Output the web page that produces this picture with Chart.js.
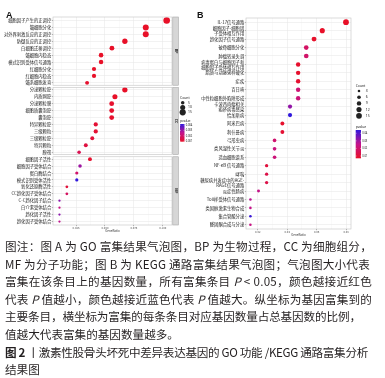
<!DOCTYPE html>
<html>
<head>
<meta charset="utf-8">
<script src="https://cdn.jsdelivr.net/npm/chart.js@4.4.0/dist/chart.umd.min.js"></script>
<style>
  body { margin: 0; width: 385px; height: 378px; background: #fff; overflow: hidden; position: relative; font-family: "Noto Sans CJK SC", sans-serif; }
  #chartA { position: absolute; left: 0; top: 0; }
  #chartB { position: absolute; left: 190px; top: 0; }
  #caption { position: absolute; left: 5px; top: 238px; font-size: 11.6px; line-height: 17.6px; color: #231f20; }
  #caption div { white-space: nowrap; height: 17.6px; }
  #caption span.fit { display: inline-block; white-space: nowrap; }
  #caption b { font-weight: 700; }
</style>
</head>
<body>
<canvas id="chartA" width="196" height="238"></canvas>
<canvas id="chartB" width="195" height="240"></canvas>
<div id="caption">
<div><span class="fit" data-w="367">图注：图 A 为 GO 富集结果气泡图，BP 为生物过程，CC 为细胞组分，</span></div>
<div><span class="fit" data-w="365">MF 为分子功能；图 B 为 KEGG 通路富集结果气泡图；气泡图大小代表</span></div>
<div><span class="fit" data-w="367">富集在该条目上的基因数量，所有富集条目 <i>P</i> &lt; 0.05，颜色越接近红色</span></div>
<div><span class="fit" data-w="367">代表 <i>P</i> 值越小，颜色越接近蓝色代表 <i>P</i> 值越大。纵坐标为基因富集到的</span></div>
<div><span class="fit" data-w="356">主要条目，横坐标为富集的每条条目对应基因数量占总基因数的比例，</span></div>
<div>值越大代表富集的基因数量越多。</div>
<div><span class="fit" data-w="363"><b>图 2</b> 丨激素性股骨头坏死中差异表达基因的 GO 功能 /KEGG 通路富集分析</span></div>
<div>结果图</div>
</div>
<script>
// ---- GO (A) ----
const goPanels = ['BP', 'CC', 'MF'];
const goPanelRows = [10, 10, 10];
const goLabels = [
  '细胞因子产生的正调控', '髓细胞分化', '对外界刺激反应的正调控', '防御反应的正调控', '白细胞迁移调控',
  '髓细胞内稳态', '模式识别受体信号通路', '红细胞分化', '红细胞内稳态', '髓系细胞发育',
  '分泌颗粒腔', '内质网腔', '分泌颗粒膜', '细胞质囊泡腔', '囊泡腔',
  '特异颗粒腔', '三级颗粒', '三级颗粒腔', '特异颗粒', '膜筏',
  '细胞因子活性', '细胞因子受体结合', '蛋白酶结合', '模式识别受体活性', '氧化还原酶活性',
  'CC趋化因子受体结合', 'C-C趋化因子结合', '白介素受体结合', '趋化因子活性', '趋化因子受体结合'
];
const goRatio = [
  0.1034, 0.0853, 0.0853, 0.0672, 0.0560, 0.0466, 0.0466, 0.0405, 0.0405, 0.0345,
  0.0672, 0.0586, 0.0558, 0.0558, 0.0558, 0.0420, 0.0420, 0.0390, 0.0334, 0.0276,
  0.0370, 0.0284, 0.0256, 0.0256, 0.0170, 0.0170, 0.0106, 0.0106, 0.0106, 0.0106
];
const goCount = [
  17, 14, 14, 11, 9, 8, 8, 7, 7, 6,
  11, 10, 9, 9, 9, 7, 7, 6, 6, 5,
  6, 5, 4, 4, 3, 3, 2, 2, 2, 2
];
const goPvalue = [
  0.0009, 0.0009, 0.0009, 0.0009, 0.0009, 0.0009, 0.0009, 0.0009, 0.0009, 0.0010,
  0.0009, 0.0009, 0.0010, 0.0010, 0.0010, 0.0011, 0.0011, 0.0012, 0.0013, 0.0016,
  0.0010, 0.0030, 0.0020, 0.0042, 0.0012, 0.0018, 0.0032, 0.0024, 0.0032, 0.0026
];
const goXTicks = [0.025, 0.05, 0.075, 0.1];
const goXTickLabels = ['0.025', '0.050', '0.075', '0.100'];
const goCountKeys = [5, 10, 15];
const goPvalueKeys = [0.001, 0.002, 0.003, 0.004];
const goPvalueRange = [0.0009, 0.0042];

// ---- KEGG (B) ----
const keggLabels = [
  'IL-17信号通路', '细胞因子-细胞因\n子受体相互作用', '趋化因子信号通路', '破骨细胞分化', '肿瘤转录失调',
  '病毒蛋白与细胞因子和\n细胞因子受体相互作用', '脂质与动脉粥样硬化', '疟疾', '百日咳', '中性粒细胞外陷阱形成',
  '卡波西肉瘤相关\n疱疹病毒感染', '恰加斯病', '阿米巴病', '利什曼病', '弓形虫病',
  '类风湿性关节炎', '造血细胞谱系', 'NF-κB 信号通路', '哮喘', '糖尿病并发症中的AGE-\nRAGE信号通路',
  '炎症性肠病', 'Toll样受体信号通路', '类固醇激素生物合成', '集合管酸分泌', '醛固酮合成与分泌'
];
const keggRatio = [
  0.0799, 0.0638, 0.0582, 0.0529, 0.0529, 0.0474, 0.0474, 0.0474, 0.0474, 0.0474,
  0.0419, 0.0419, 0.0367, 0.0367, 0.0314, 0.0314, 0.0314, 0.0260, 0.0260, 0.0260,
  0.0205, 0.0150, 0.0150, 0.0150, 0.0150
];
const keggCount = [15, 12, 11, 10, 10, 9, 9, 9, 9, 9, 8, 8, 7, 7, 6, 6, 6, 5, 5, 5, 4, 3, 3, 3, 3];
const keggPvalue = [
  0.0070, 0.0072, 0.0075, 0.0180, 0.0190, 0.0080, 0.0080, 0.0085, 0.0210, 0.0220,
  0.0320, 0.0443, 0.0080, 0.0090, 0.0200, 0.0230, 0.0220, 0.0110, 0.0130, 0.0130,
  0.0250, 0.0270, 0.0250, 0.0430, 0.0240
];
const keggXTicks = [0.02, 0.04, 0.06, 0.08];
const keggXTickLabels = ['0.02', '0.04', '0.06', '0.08'];
const keggCountKeys = [3, 6, 9, 12, 15];
const keggPvalueKeys = [0.01, 0.02, 0.03, 0.04];
const keggPvalueRange = [0.007, 0.0443];

// stretch or squeeze each caption line to the width it has in the figure
document.querySelectorAll('#caption span.fit').forEach(el => {
  const target = Number(el.dataset.w);
  const chars = el.textContent.length;
  const extra = (target - el.getBoundingClientRect().width) / chars;
  el.style.letterSpacing = extra.toFixed(3) + 'px';
});

Chart.defaults.font.family = '"Noto Sans CJK SC", "Noto Sans", sans-serif';

const colorStops = [[232, 16, 40], [196, 20, 140], [48, 24, 220]];
function pColor(p, range) {
  let t = (p - range[0]) / (range[1] - range[0]);
  t = Math.max(0, Math.min(1, t));
  const seg = t < 0.5 ? 0 : 1;
  const f = t < 0.5 ? t * 2 : (t - 0.5) * 2;
  const a = colorStops[seg], b = colorStops[seg + 1];
  return 'rgb(' + a.map((c, i) => Math.round(c + (b[i] - c) * f)).join(',') + ')';
}

function drawLegend(ctx, o, lg) {
  ctx.save();
  ctx.fillStyle = '#222';
  ctx.textBaseline = 'middle';
  ctx.font = '3.4px "Noto Sans", sans-serif';
  ctx.fillText('Count', lg.x, lg.countY);
  o.countKeys.forEach((c, i) => {
    const y = lg.countY + lg.dotStart + i * lg.dotGap;
    ctx.beginPath();
    ctx.arc(lg.x + lg.dotDx, y, o.k * Math.sqrt(c), 0, Math.PI * 2);
    ctx.fill();
    ctx.fillText(String(c), lg.x + lg.labelDx, y);
  });
  ctx.fillText('pvalue', lg.x, lg.barTop - 2.5);
  const g = ctx.createLinearGradient(0, lg.barBottom, 0, lg.barTop);
  g.addColorStop(0, pColor(o.pRange[0], o.pRange));
  g.addColorStop(0.5, pColor((o.pRange[0] + o.pRange[1]) / 2, o.pRange));
  g.addColorStop(1, pColor(o.pRange[1], o.pRange));
  ctx.fillStyle = g;
  ctx.fillRect(lg.x, lg.barTop, lg.barW, lg.barBottom - lg.barTop);
  ctx.fillStyle = '#222';
  ctx.strokeStyle = '#fff';
  ctx.lineWidth = 0.4;
  o.pKeys.forEach(v => {
    const y = lg.barBottom - (v - o.pRange[0]) / (o.pRange[1] - o.pRange[0]) * (lg.barBottom - lg.barTop);
    ctx.beginPath();
    ctx.moveTo(lg.x, y); ctx.lineTo(lg.x + 1, y);
    ctx.moveTo(lg.x + lg.barW - 1, y); ctx.lineTo(lg.x + lg.barW, y);
    ctx.stroke();
    ctx.font = '2.6px "Noto Sans", sans-serif';
    ctx.fillText(v.toFixed(o.pDigits), lg.x + lg.barW + 1.2, y);
  });
  ctx.restore();
}

function bubbleChart(id, o) {
  const points = o.ratio.map((x, i) => ({ x: x, y: i, r: o.k * Math.sqrt(o.count[i]) }));
  const majors = o.ticks;
  const step = majors[1] - majors[0];
  const minors = [majors[0] - step / 2].concat(majors.map(v => v + step / 2))
    .filter(v => v > o.min && v < o.max);
  const all = majors.concat(minors).sort((a, b) => a - b);

  return new Chart(document.getElementById(id), {
    type: 'bubble',
    data: {
      labels: o.labels,
      datasets: [{
        data: points,
        backgroundColor: c => pColor(o.pvalue[c.dataIndex], o.pRange),
        borderWidth: 0
      }]
    },
    options: {
      responsive: false,
      animation: false,
      events: [],
      layout: { padding: o.padding },
      plugins: { legend: { display: false }, tooltip: { enabled: false } },
      scales: {
        x: {
          type: 'linear',
          min: o.min,
          max: o.max,
          afterBuildTicks: s => { s.ticks = all.map(v => ({ value: v })); },
          afterFit: s => { s.height = o.xHeight; },
          ticks: {
            autoSkip: false, maxRotation: 0, padding: 0.3,
            font: { size: 2.8 }, color: '#4d4d4d',
            callback: v => { const i = majors.indexOf(v); return i < 0 ? '' : o.tickLabels[i]; }
          },
          grid: {
            color: c => (c.tick && majors.indexOf(c.tick.value) < 0) ? '#F4F4F4' : '#E4E4E4',
            lineWidth: 0.5,
            tickLength: 1.2,
            tickColor: c => (c.tick && majors.indexOf(c.tick.value) < 0) ? 'rgba(0,0,0,0)' : '#555'
          },
          border: { display: false },
          title: { display: true, text: 'GeneRatio', font: { size: 3 }, color: '#333', padding: 0 }
        },
        y: {
          type: 'category',
          offset: true,
          afterFit: s => { s.width = o.yWidth; },
          ticks: {
            autoSkip: false, padding: 0.6,
            font: { size: o.labelSize, lineHeight: 1.15 }, color: '#222',
            callback: function (v) {
              const l = this.getLabelForValue(v);
              return l.indexOf('\n') >= 0 ? l.split('\n') : l;
            }
          },
          grid: { offset: false, color: '#E4E4E4', lineWidth: 0.5, tickLength: 1.2, tickColor: '#555' },
          border: { display: false }
        }
      }
    },
    plugins: [o.plugin]
  });
}

const goOpts = {
  labels: goLabels, ratio: goRatio, count: goCount, pvalue: goPvalue, pRange: goPvalueRange,
  ticks: goXTicks, tickLabels: goXTickLabels, min: 0.005, max: 0.108,
  countKeys: goCountKeys, pKeys: goPvalueKeys, pDigits: 3,
  k: 0.8, labelSize: 4.3, yWidth: 53, xHeight: 8,
  padding: { top: 17, right: 24, bottom: 5, left: 0 }
};
goOpts.plugin = {
  id: 'goFacets',
  beforeDatasetsDraw(chart) {
    const { ctx, chartArea: ca, scales: { y } } = chart;
    const half = (y.getPixelForValue(1) - y.getPixelForValue(0)) / 2;
    ctx.save();
    ctx.fillStyle = '#fff';
    let start = 0;
    goPanelRows.forEach((n, k) => {
      if (k > 0) ctx.fillRect(ca.left - 0.5, y.getPixelForValue(start) - half - 1.1, ca.width + 8, 2.2);
      start += n;
    });
    ctx.restore();
  },
  afterDraw(chart) {
    const { ctx, chartArea: ca, scales: { y } } = chart;
    const half = (y.getPixelForValue(1) - y.getPixelForValue(0)) / 2;
    ctx.save();
    let start = 0;
    goPanelRows.forEach((n, k) => {
      const top = y.getPixelForValue(start) - half + (k > 0 ? 1.1 : 0);
      const bottom = y.getPixelForValue(start + n - 1) + half - (k < goPanelRows.length - 1 ? 1.1 : 0);
      ctx.strokeStyle = '#C4C4C4';
      ctx.lineWidth = 0.6;
      ctx.strokeRect(ca.left, top, ca.width, bottom - top);
      ctx.fillStyle = '#D6D6D6';
      ctx.fillRect(ca.right + 0.8, top, 5.6, bottom - top);
      ctx.strokeStyle = '#A8A8A8';
      ctx.strokeRect(ca.right + 0.8, top, 5.6, bottom - top);
      ctx.translate(ca.right + 3.6, (top + bottom) / 2);
      ctx.rotate(Math.PI / 2);
      ctx.fillStyle = '#1a1a1a';
      ctx.font = 'bold 3.6px "Noto Sans", sans-serif';
      ctx.textAlign = 'center';
      ctx.textBaseline = 'middle';
      ctx.fillText(goPanels[k], 0, 0);
      ctx.setTransform(1, 0, 0, 1, 0, 0);
      start += n;
    });
    ctx.restore();
    drawLegend(ctx, goOpts, { x: 180, countY: 97.7, dotStart: 5, dotGap: 4.8, dotDx: 2.7, labelDx: 8, barTop: 124, barBottom: 141.7, barW: 4.5 });
    ctx.save();
    ctx.fillStyle = '#111';
    ctx.font = 'bold 9px "Liberation Sans", Arial, sans-serif';
    ctx.fillText('A', 6, 18);
    ctx.restore();
  }
};

const keggOpts = {
  labels: keggLabels, ratio: keggRatio, count: keggCount, pvalue: keggPvalue, pRange: keggPvalueRange,
  ticks: keggXTicks, tickLabels: keggXTickLabels, min: 0.012, max: 0.0833,
  countKeys: keggCountKeys, pKeys: keggPvalueKeys, pDigits: 2,
  k: 0.74, labelSize: 4.3, yWidth: 56, xHeight: 8,
  padding: { top: 18, right: 34, bottom: 3, left: 0 }
};
keggOpts.plugin = {
  id: 'keggFrame',
  afterDraw(chart) {
    const { ctx, chartArea: ca } = chart;
    ctx.save();
    ctx.strokeStyle = '#C4C4C4';
    ctx.lineWidth = 0.6;
    ctx.strokeRect(ca.left, ca.top, ca.width, ca.height);
    ctx.restore();
    drawLegend(ctx, keggOpts, { x: 165.7, countY: 86, dotStart: 5, dotGap: 6.2, dotDx: 3.3, labelDx: 10, barTop: 130, barBottom: 158.3, barW: 5.3 });
    ctx.save();
    ctx.fillStyle = '#111';
    ctx.font = 'bold 9px "Liberation Sans", Arial, sans-serif';
    ctx.fillText('B', 7, 18);
    ctx.restore();
  }
};

bubbleChart('chartA', goOpts);
bubbleChart('chartB', keggOpts);
</script>
</body>
</html>
